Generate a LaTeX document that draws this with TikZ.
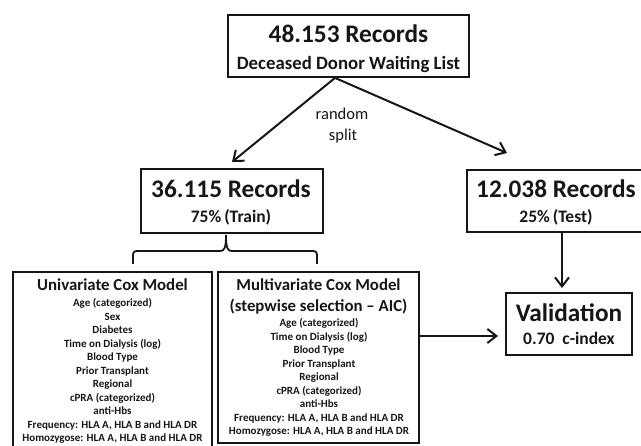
\documentclass[tikz,border=0pt]{standalone}
\usepackage{fontspec}
\setmainfont{Carlito}
\usetikzlibrary{arrows.meta}
\definecolor{ink}{HTML}{161616}
\tikzset{
  box/.style={draw=ink, line width=1.8pt, rectangle, inner sep=0pt},
  flow/.style={draw=ink, line width=2pt, -{Straight Barb[length=9pt,width=14pt,line width=2pt]}},
  txt/.style={text=ink, inner sep=0pt, anchor=base},
  headline/.style={txt, font=\bfseries\fontsize{25.3}{30}\selectfont},
  subline/.style={txt, font=\bfseries\fontsize{17.5}{20}\selectfont},
  toplabel/.style={txt, font=\bfseries\fontsize{18.8}{22}\selectfont},
  modeltitle/.style={txt, font=\bfseries\fontsize{16.8}{20}\selectfont},
  itemline/.style={txt, font=\bfseries\fontsize{11}{13}\selectfont},
  plainlbl/.style={txt, font=\fontsize{16.5}{20}\selectfont},
}
\begin{document}
\begin{tikzpicture}[x=1pt,y=-1pt]
\useasboundingbox (0,0) rectangle (641,446);
\clip (0,0) rectangle (641,446);

% ---- boxes ----
\node[box, minimum width=241pt, minimum height=62pt] (all) at (348.5,46) {};
\node[box, minimum width=182pt, minimum height=64pt] (train) at (232,201) {};
\node[box, minimum width=180pt, minimum height=62pt] (test) at (557,201) {};
\node[box, minimum width=126pt, minimum height=62pt] (val) at (569,324) {};
\node[box, minimum width=199pt, minimum height=182pt] (uni) at (112.5,363) {};
\node[box, minimum width=201pt, minimum height=171pt] (multi) at (318.5,357.5) {};

% ---- box texts ----
\node[headline] (allA) at (348.5,43) {48.153 Records};
\node[toplabel] (allB) at (348.5,70) {Deceased Donor Waiting List};
\node[headline] (trainA) at (231,198) {36.115 Records};
\node[subline]  (trainB) at (231,223) {75\%\,(Train)};
\node[headline] (testA) at (556,198) {12.038 Records};
\node[subline]  (testB) at (556,223) {25\%\,(Test)};
\node[headline] (valA) at (569,322) {Validation};
\node[subline]  (valB) at (569,345) {0.70~~c-index};

% univariate model
\node[modeltitle] (uniT) at (112.5,291) {Univariate Cox Model};
\foreach \t [count=\i] in {Age (categorized), Sex, Diabetes, Time on Dialysis (log),
    Blood Type, Prior Transplant, Regional, cPRA (categorized), anti-Hbs,
    {Frequency: HLA A, HLA B and HLA DR}, {Homozygose: HLA A, HLA B and HLA DR}}
  \node[itemline] (uni\i) at (112.5,{307+13.5*(\i-1)}) {\t};

% multivariate model
\node[modeltitle] (multiT) at (318.5,291) {Multivariate Cox Model};
\node[modeltitle] (multiS) at (318.5,312) {(stepwise selection -- AIC)};
\foreach \t [count=\i] in {Age (categorized), Time on Dialysis (log),
    Blood Type, Prior Transplant, Regional, cPRA (categorized), anti-Hbs,
    {Frequency: HLA A, HLA B and HLA DR}, {Homozygose: HLA A, HLA B and HLA DR}}
  \node[itemline] (multi\i) at (319,{327+13.5*(\i-1)}) {\t};

% ---- random split ----
\coordinate (px) at (335,0);
\coordinate (traintip) at (232,162);
\coordinate (testtip) at (507,153);
\draw[flow] (all.south -| px) -- (traintip);
\draw[flow] (all.south -| px) -- (testtip);
\node[plainlbl] (splitA) at (342,120) {random};
\node[plainlbl] (splitB) at (343,141) {split};

% ---- brace under the training set ----
\coordinate (tip) at (226,235);
\draw[ink, line width=1.8pt, line join=round]
  (133,264) -- (133,256) .. controls (133,252) and (134,251) .. (138,251)
  -- (220,251) .. controls (224,251) and (226,249) .. (tip);
\draw[ink, line width=1.8pt, line join=round]
  (317,264) -- (317,256) .. controls (317,252) and (316,251) .. (312,251)
  -- (232,251) .. controls (228,251) and (226,249) .. (tip);

% ---- test set and model into validation ----
\coordinate (vx) at (562,0);
\coordinate (valtop) at (562,288);
\coordinate (hy) at (0,336);
\coordinate (valleft) at (498,336);
\draw[flow] (test.south -| vx) -- (valtop);
\draw[flow] (multi.east |- hy) -- (valleft);
\end{tikzpicture}
\end{document}
